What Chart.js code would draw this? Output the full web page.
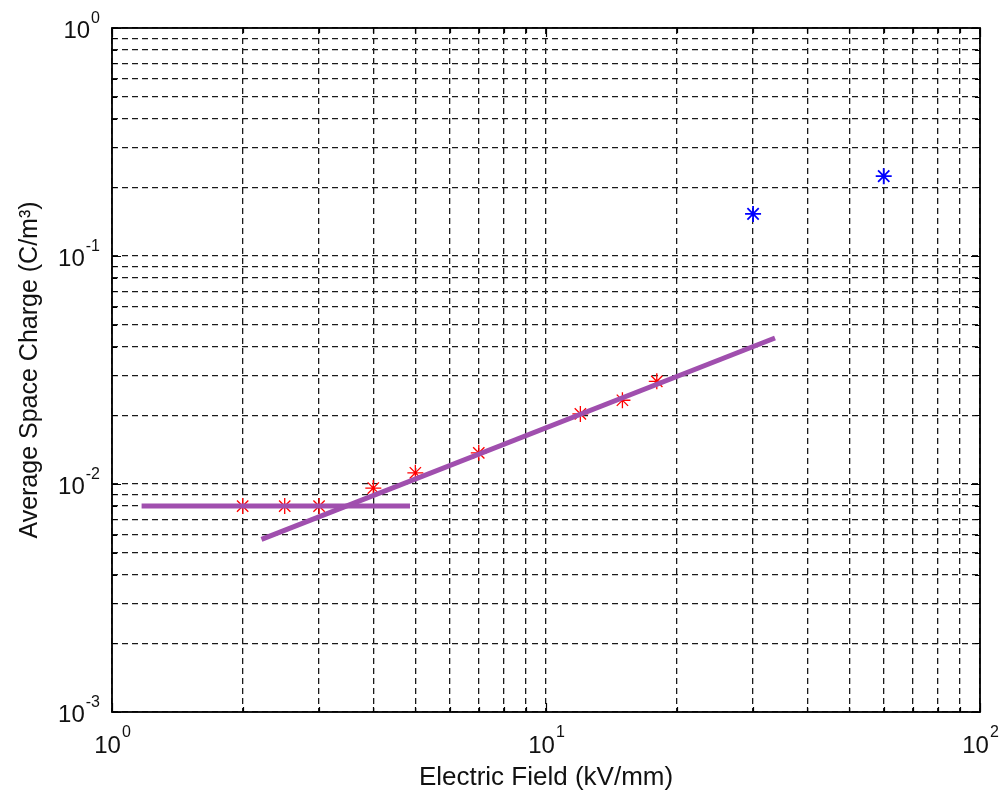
<!DOCTYPE html>
<html><head><meta charset="utf-8">
<script src="https://cdn.jsdelivr.net/npm/chart.js@4/dist/chart.umd.min.js"></script>
<style>html,body{margin:0;padding:0;background:#fff;}#wrap{width:1000px;height:797px;}</style>
</head><body><div id="wrap"><canvas id="c" width="1000" height="797"></canvas></div>
<script>
// ---- data ----
const fieldRed = [2, 2.5, 3, 4, 5, 7, 12, 15, 18];
const chargeRed = [0.0080, 0.0080, 0.0080, 0.0096, 0.0112, 0.0137, 0.0203, 0.0233, 0.0282];
const fieldBlue = [30, 60];
const chargeBlue = [0.153, 0.224];
const flatFitField = [1.17, 4.86];
const flatFitCharge = [0.0080, 0.0080];
const slopeFitField = [2.21, 33.7];
const slopeFitCharge = [0.00572, 0.0437];
// ---- ticks ----
const xTickValues = [1,2,3,4,5,6,7,8,9,10,20,30,40,50,60,70,80,90,100];
const yTickValues = [0.001,0.002,0.003,0.004,0.005,0.006,0.007,0.008,0.009,
                     0.01,0.02,0.03,0.04,0.05,0.06,0.07,0.08,0.09,
                     0.1,0.2,0.3,0.4,0.5,0.6,0.7,0.8,0.9,1];
const xMajorTicks = [1, 10, 100];
const xMajorExponents = ['0', '1', '2'];
const yMajorTicks = [1, 0.1, 0.01, 0.001];
const yMajorExponents = ['0', '-1', '-2', '-3'];
const xAxisTitle = 'Electric Field (kV/mm)';
const yAxisTitle = 'Average Space Charge (C/m\u00B3)';

const FONT = '"Liberation Sans", Arial, sans-serif';
const pts = (xs, ys) => xs.map((x, i) => ({x: x, y: ys[i]}));
const isMajor = v => Math.abs(Math.log10(v) - Math.round(Math.log10(v))) < 1e-9;

const framePlugin = {
  id: 'frame',
  afterDraw(chart) {
    const {ctx, chartArea: a, scales: {x, y}} = chart;
    ctx.save();
    // inner tick marks
    ctx.strokeStyle = '#000';
    ctx.lineWidth = 1.2;
    ctx.beginPath();
    xTickValues.forEach(v => {
      const px = Math.round(x.getPixelForValue(v)) + 0.5;
      const len = isMajor(v) ? 9 : 5;
      ctx.moveTo(px, a.bottom); ctx.lineTo(px, a.bottom - len);
      ctx.moveTo(px, a.top); ctx.lineTo(px, a.top + len);
    });
    yTickValues.forEach(v => {
      const py = Math.round(y.getPixelForValue(v)) + 0.5;
      const len = isMajor(v) ? 9 : 5;
      ctx.moveTo(a.left, py); ctx.lineTo(a.left + len, py);
      ctx.moveTo(a.right, py); ctx.lineTo(a.right - len, py);
    });
    ctx.stroke();
    // frame
    ctx.lineWidth = 1.8;
    ctx.strokeRect(a.left, a.top, a.right - a.left, a.bottom - a.top);
    // tick labels: 10 with superscript exponent
    ctx.fillStyle = '#111';
    ctx.textBaseline = 'alphabetic';
    ctx.textAlign = 'left';
    const baseFont = '24px ' + FONT, supFont = '16px ' + FONT;
    xMajorTicks.forEach((v, i) => {
      const px = x.getPixelForValue(v);
      ctx.font = baseFont; const bw = ctx.measureText('10').width;
      ctx.font = supFont; const sw = ctx.measureText(xMajorExponents[i]).width;
      const start = px - (bw + sw) / 2;
      ctx.font = baseFont; ctx.fillText('10', start, a.bottom + 41);
      ctx.font = supFont; ctx.fillText(xMajorExponents[i], start + bw + 1, a.bottom + 25);
    });
    yMajorTicks.forEach((v, i) => {
      const py = y.getPixelForValue(v);
      ctx.font = baseFont; const bw = ctx.measureText('10').width;
      ctx.font = supFont; const sw = ctx.measureText(yMajorExponents[i]).width;
      const start = a.left - 12 - (bw + sw + 1);
      ctx.font = baseFont; ctx.fillText('10', start, py + 10);
      ctx.font = supFont; ctx.fillText(yMajorExponents[i], start + bw + 1, py - 5);
    });
    ctx.restore();
  }
};

const gridOpts = {color: '#1a1a1a', lineWidth: 1.3, drawTicks: false};
const borderOpts = {display: false, dash: [6, 4]};

new Chart(document.getElementById('c'), {
  type: 'scatter',
  data: {
    datasets: [
      {label: 'Fit (low field)', type: 'line', data: pts(flatFitField, flatFitCharge),
       borderColor: '#a04fae', borderWidth: 5, pointRadius: 0, fill: false, order: 0},
      {label: 'Fit (high field)', type: 'line', data: pts(slopeFitField, slopeFitCharge),
       borderColor: '#a04fae', borderWidth: 5, pointRadius: 0, fill: false, order: 0},
      {label: 'Measured', data: pts(fieldRed, chargeRed), pointStyle: 'star', pointRadius: 8,
       borderColor: '#ff0000', backgroundColor: '#ff0000', borderWidth: 1.3, order: 1},
      {label: 'Measured (high)', data: pts(fieldBlue, chargeBlue), pointStyle: 'star', pointRadius: 8,
       borderColor: '#0000ff', backgroundColor: '#0000ff', borderWidth: 1.8, order: 1}
    ]
  },
  options: {
    responsive: false,
    animation: false,
    layout: {padding: {top: 28, right: 20, left: 0, bottom: 0}},
    plugins: {legend: {display: false}, tooltip: {enabled: false}},
    scales: {
      x: {
        type: 'logarithmic', min: 1, max: 100, position: 'bottom',
        afterBuildTicks: s => { s.ticks = xTickValues.map(v => ({value: v})); },
        afterFit: s => { s.height = 85; },
        ticks: {display: false},
        grid: gridOpts, border: borderOpts,
        title: {display: true, text: xAxisTitle, color: '#111',
                font: {family: FONT, size: 26}, padding: {top: 0, bottom: 4}}
      },
      y: {
        type: 'logarithmic', min: 0.001, max: 1, position: 'left',
        afterBuildTicks: s => { s.ticks = yTickValues.map(v => ({value: v})); },
        afterFit: s => { s.width = 112; },
        ticks: {display: false},
        grid: gridOpts, border: borderOpts,
        title: {display: true, text: yAxisTitle, color: '#111',
                font: {family: FONT, size: 25}, padding: {top: 15, bottom: 0}}
      }
    }
  },
  plugins: [framePlugin]
});
</script>
</body></html>
